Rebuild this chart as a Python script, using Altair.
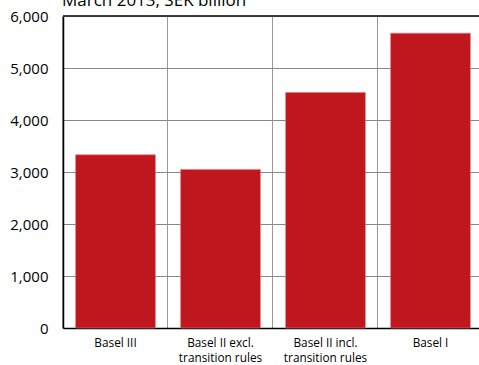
import altair as alt
import pandas as pd

categories = ["Basel III", "Basel II excl.|transition rules", "Basel II incl.|transition rules", "Basel I"]
values = [3330, 3050, 4530, 5670]
title_text = "March 2013, SEK billion"
y_ticks = [0, 1000, 2000, 3000, 4000, 5000, 6000]

df = pd.DataFrame({"cat": categories, "val": values})
FONT = "Open Sans"

bars = alt.Chart(df).mark_bar(color="#C0161E", stroke="#E07A80", strokeWidth=0.6).encode(
    x=alt.X("cat:N", sort=categories, title=None,
            scale=alt.Scale(paddingInner=0.24, paddingOuter=0.12),
            axis=alt.Axis(labelExpr="split(datum.label, '|')", labelAngle=0,
                          labelFont=FONT, labelFontSize=11.8, labelColor="#000",
                          labelPadding=9, labelLineHeight=15,
                          ticks=False, domainColor="#000", domainWidth=1.5,
                          grid=True, gridColor="#999", bandPosition=-0.158)),
    y=alt.Y("val:Q", title=None,
            scale=alt.Scale(domain=[0, 6000], nice=False),
            axis=alt.Axis(values=y_ticks, format=",.0f", labelFont=FONT, labelFontSize=15,
                          labelColor="#000", labelPadding=15, ticks=False,
                          domainColor="#000", domainWidth=1.5,
                          grid=True, gridColor="#888")),
)

top_line = alt.Chart(df).mark_rule(color="#333", strokeWidth=1.2).encode(
    x=alt.value(0), x2=alt.value(420), y=alt.value(0)
)

title = alt.Chart(pd.DataFrame({"t": [title_text]})).mark_text(
    align="left", baseline="alphabetic", font=FONT, fontSize=17, color="#000"
).encode(x=alt.value(-1), y=alt.value(-10), text="t:N")

chart = alt.layer(bars, top_line, title).properties(
    width=420, height=312,
    autosize=alt.AutoSizeParams(type="none"),
    padding={"left": 63, "top": 16, "right": -4, "bottom": 37},
).configure_view(stroke=None)

chart.save("out.html", embed_options={"renderer": "svg", "actions": False})
